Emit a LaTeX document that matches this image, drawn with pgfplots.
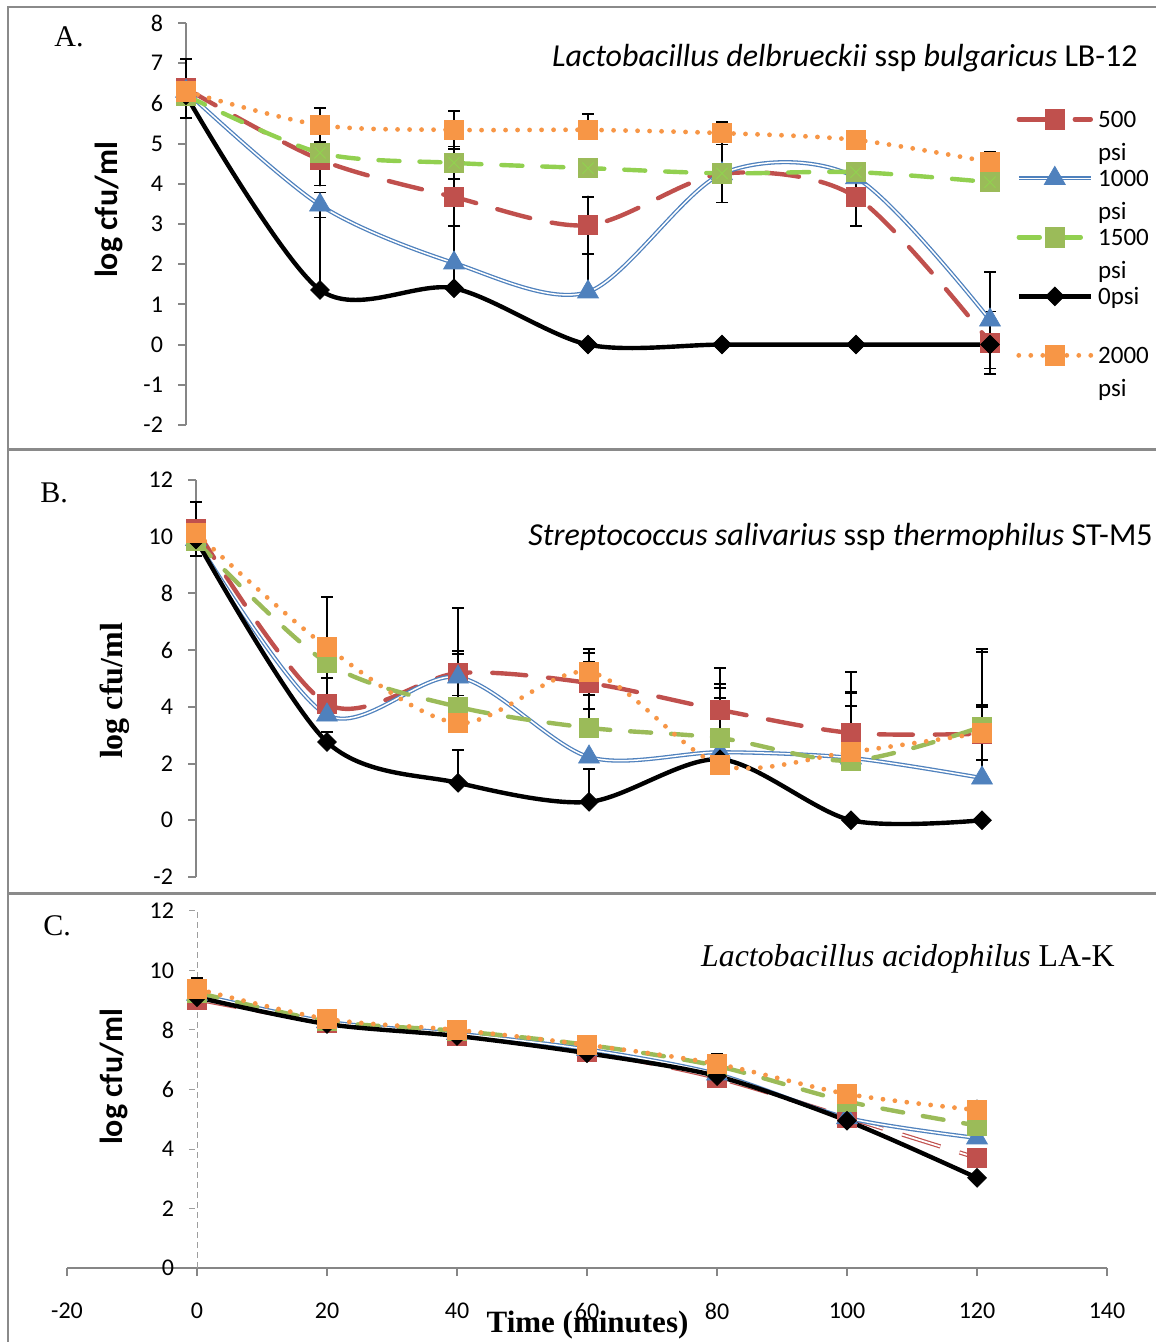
\documentclass[border=0pt]{standalone}
\usepackage{pgfplots}
\pgfplotsset{compat=1.18}
\usepackage{fontspec}
\setmainfont{Liberation Serif}
\newfontfamily\calib{Carlito}
\definecolor{cRed}{HTML}{C0504D}
\definecolor{cBlue}{HTML}{4F81BD}
\definecolor{cGreen}{HTML}{9BBB59}
\definecolor{cGreenL}{HTML}{92D050}
\definecolor{cOrange}{HTML}{F79646}
\definecolor{cAxis}{HTML}{868686}
\definecolor{cFrame}{HTML}{8A8A8A}

\pgfplotsset{
  panel/.style={
    scale only axis, clip=false, anchor=south west,
    axis line style={cAxis, line width=1pt},
    tick style={cAxis, line width=1pt},
    tick align=outside, major tick length=4pt,
    tick label style={font=\calib\fontsize{12}{14}\selectfont},
    yticklabel style={xshift=-4pt},
  },
  eb/.style={error bars/.cd, y dir=both, y explicit,
    error bar style={black, solid, line width=0.7pt},
    error mark options={black, solid, line width=0.7pt, mark size=3pt, rotate=90}},
  sRed/.style={cRed, line width=2.2pt, line cap=round, dash pattern=on 17pt off 11pt, smooth,
    mark=square*, mark size=4.8pt, mark options={solid, fill=cRed, draw=cRed, line width=0.4pt}},
  sBlueLine/.style={cBlue, line width=0.65pt, double=white, double distance=0.75pt, smooth, forget plot},
  sBlueMark/.style={only marks, mark=triangle*, mark size=6pt, mark options={solid, fill=cBlue, draw=cBlue, line width=0.4pt}, forget plot},
  sGreen/.style={#1, line width=2.2pt, line cap=round, dash pattern=on 10.5pt off 10pt, smooth,
    mark=square*, mark size=4.8pt, mark options={solid, fill=cGreen, draw=cGreen, line width=0.4pt}},
  sBlack/.style={black, line width=2.2pt, smooth, mark=square*, mark size=3.3pt,
    mark options={solid, rotate=45, fill=black, draw=black, line width=0.4pt}},
  sOrange/.style={cOrange, line width=2.4pt, line cap=round, dash pattern=on 0pt off 6pt, smooth,
    mark=square*, mark size=4.8pt, mark options={solid, fill=cOrange, draw=cOrange, line width=0.4pt}},
}

\begin{document}
\begin{tikzpicture}
\useasboundingbox (0pt,0pt) rectangle (577.5pt,671pt);
% panel frames
\draw[cFrame, line width=1pt] (4pt,667.5pt) rectangle (582pt,446.5pt);
\draw[cFrame, line width=1pt] (4pt,446pt) rectangle (582pt,224pt);
\draw[cFrame, line width=1pt] (4pt,224.5pt) rectangle (582pt,-5pt);

% ---------------- Panel A ----------------
\begin{axis}[panel, at={(93pt,458.5pt)}, width=435.5pt, height=201pt,
  xmin=0, xmax=130, ymin=-2, ymax=8,
  axis x line=none, axis y line*=left,
  ytick={-2,-1,...,8}, yticklabels={-2,-1,0,1,2,3,4,5,6,7,8},
  ylabel={log cfu/ml},
  ylabel style={at={(axis description cs:-0.0781,0.5348)}, anchor=base, font=\calib\bfseries\fontsize{16}{18}\selectfont},
  legend image code/.code={\begin{scope}[yshift=4pt]\draw[mark repeat=2,mark phase=2,#1] plot coordinates {(0pt,0pt) (18pt,0pt) (36pt,0pt)};\end{scope}\path (38.5pt,0pt);},
  legend style={at={(axis description cs:0.9529,0.796)}, anchor=north west, draw=none, fill=none,
    inner xsep=0pt, inner ysep=0pt, row sep=0.5pt, cells={anchor=base west},
    nodes={inner sep=0pt, text height=11pt, text depth=18pt},
    font=\calib\fontsize{12.5}{16.5}\selectfont},
]
\addplot[sRed, eb] coordinates {
 (0,6.37) +- (0,0.73) (20,4.6) +- (0,0.65) (40,3.67) +- (0,0.72) (60,2.97) +- (0,0.72)
 (80,4.25) +- (0,0) (100,3.67) +- (0,0.72) (120,0.05) +- (0,0.78)};
\addplot[sBlueLine] coordinates {(0,6.3) (20,3.47) (40,2.03) (60,1.31) (80,4.25) (100,4.15) (120,0.61)};
\addplot[sBlueMark, eb] coordinates {
 (0,6.3) +- (0,0) (20,3.47) +- (0,0.31) (40,2.03) +- (0,0) (60,1.31) += (0,2.35) -= (0,0)
 (80,4.25) +- (0,0) (100,4.15) +- (0,0) (120,0.61) +- (0,1.2)};
\addlegendimage{legend image code/.code={
  \begin{scope}[yshift=4pt]
  \draw[cBlue, line width=0.65pt, double=white, double distance=0.75pt] (0pt,0pt) -- (36pt,0pt);
  \draw[cBlue, mark=triangle*, mark size=6pt, mark options={fill=cBlue, draw=cBlue}] plot coordinates {(18pt,0pt)};
  \end{scope}
  \path (38.5pt,0pt);}}
\addplot[sGreen=cGreenL, eb] coordinates {
 (0,6.2) +- (0,0) (20,4.77) +- (0,0) (40,4.52) +- (0,0.4) (60,4.39) +- (0,0)
 (80,4.26) +- (0,0.72) (100,4.29) += (0,0.23) -= (0,0) (120,4.04) +- (0,0)};
\addplot[forget plot, only marks, mark=x, mark size=4pt, cGreenL, line width=0.5pt] coordinates {
 (0,6.2) (20,4.77) (40,4.52) (60,4.39) (80,4.26) (100,4.29) (120,4.04)};
\addplot[sBlack, eb] coordinates {
 (0,6.2) +- (0,0) (20,1.36) += (0,2.42) -= (0,0) (40,1.4) += (0,1.55) -= (0,0)
 (60,0) +- (0,0) (80,0) +- (0,0) (100,0) +- (0,0) (120,0) +- (0,0)};
\addplot[sOrange, eb] coordinates {
 (0,6.3) +- (0,0) (20,5.46) +- (0,0.42) (40,5.34) +- (0,0.47) (60,5.34) += (0,0.4) -= (0,0)
 (80,5.26) +- (0,0.28) (100,5.09) +- (0,0) (120,4.54) += (0,0.26) -= (0,0)};
\legend{\vtop{\hbox{500}\hbox{psi}}, \vtop{\hbox{1000}\hbox{psi}}, \vtop{\hbox{1500}\hbox{psi}}, 0psi, \vtop{\hbox{2000}\hbox{psi}}}
\end{axis}

% ---------------- Panel B ----------------
\begin{axis}[panel, at={(98pt,232.5pt)}, width=425.75pt, height=198.5pt,
  xmin=0, xmax=130, ymin=-2, ymax=12,
  axis x line=none, axis y line*=left,
  ytick={-2,0,...,12}, yticklabels={-2,0,2,4,6,8,10,12},
  ylabel={log cfu/ml},
  ylabel style={at={(axis description cs:-0.0869,0.4685)}, anchor=base, font=\bfseries\fontsize{16}{18}\selectfont},
]
\addplot[sRed, eb] coordinates {
 (0,10.27) +- (0,0.95) (20,4.1) +- (0,0) (40,5.19) +- (0,0.78) (60,4.84) += (0,1.06) -= (0,0.91)
 (80,3.89) += (0,1.48) -= (0,0) (100,3.08) += (0,2.15) -= (0,0) (120,3.05) += (0,1.02) -= (0,0.92)};
\addplot[sBlueLine] coordinates {(0,9.9) (20,3.71) (40,5.05) (60,2.23) (80,2.4) (100,2.2) (120,1.49)};
\addplot[sBlueMark, eb] coordinates {
 (0,9.9) +- (0,0) (20,3.71) +- (0,0) (40,5.05) += (0,0.81) -= (0,0) (60,2.23) +- (0,0)
 (80,2.4) += (0,2.27) -= (0,0) (100,2.2) += (0,1.83) -= (0,0) (120,1.49) += (0,2.51) -= (0,0)};
\addplot[sGreen=cGreen, eb] coordinates {
 (0,9.85) +- (0,0) (20,5.55) += (0,0) -= (0,0.53) (40,4.0) +- (0,0) (60,3.26) += (0,2.32) -= (0,0)
 (80,2.9) += (0,1.9) -= (0,0) (100,2.1) += (0,2.39) -= (0,0) (120,3.3) += (0,2.63) -= (0,0)};
\addplot[sBlack, eb] coordinates {
 (0,9.9) +- (0,0) (20,2.76) += (0,0.35) -= (0,0) (40,1.32) += (0,1.16) -= (0,0) (60,0.65) += (0,1.16) -= (0,0)
 (80,2.15) +- (0,0) (100,0) +- (0,0) (120,0) +- (0,0)};
\addplot[sOrange, eb] coordinates {
 (0,10.13) +- (0,0) (20,6.1) +- (0,1.77) (40,3.43) += (0,4.06) -= (0,0) (60,5.23) +- (0,0.81)
 (80,1.95) += (0,2.36) -= (0,0) (100,2.41) += (0,2.11) -= (0,0) (120,3.08) += (0,2.96) -= (0,0)};
\end{axis}

% ---------------- Panel C ----------------
\begin{axis}[panel, at={(33.5pt,37pt)}, width=520pt, height=178.5pt,
  xmin=-20, xmax=140, ymin=0, ymax=12,
  axis x line*=bottom, axis y line*=middle,
  hide obscured x ticks=false, hide obscured y ticks=false,
  y axis line style={densely dashed, line width=0.5pt, cAxis!80},
  ytick style={densely dashed, line width=0.5pt, cAxis!80},
  xtick={-20,0,...,140}, xticklabels={-20,0,20,40,60,80,100,120,140},
  ytick={0,2,...,12}, yticklabels={0,2,4,6,8,10,12},
  xticklabel style={yshift=-10pt},
  xlabel={Time (minutes)},
  xlabel style={at={(axis description cs:0.5005,-0.1793)}, anchor=base, font=\bfseries\fontsize{15.5}{18}\selectfont},
  ylabel={log cfu/ml},
  ylabel style={at={(axis description cs:0.0538,0.535)}, anchor=base, font=\calib\bfseries\fontsize{16}{18}\selectfont},
]
\addplot[cRed, line width=0.6pt, double=white, double distance=0.9pt, dash pattern=on 20pt off 10pt, smooth, forget plot]
 coordinates {(0,9.03) (20,8.25) (40,7.82) (60,7.27) (80,6.39) (100,5.06) (120,3.7)};
\addplot[forget plot, only marks, mark=square*, mark size=4.8pt, mark options={solid, fill=cRed, draw=cRed}]
 coordinates {(0,9.03) (20,8.25) (40,7.82) (60,7.27) (80,6.39) (100,5.06) (120,3.7)};
\addplot[sBlueLine] coordinates {(0,9.2) (20,8.28) (40,7.88) (60,7.35) (80,6.52) (100,5.05) (120,4.37)};
\addplot[sBlueMark] coordinates {(0,9.2) (20,8.28) (40,7.88) (60,7.35) (80,6.52) (100,5.05) (120,4.37)};
\addplot[sGreen=cGreen, forget plot] coordinates {(0,9.26) (20,8.3) (40,7.97) (60,7.5) (80,6.79) (100,5.6) (120,4.79)};
\addplot[sBlack, forget plot] coordinates {(0,9.1) (20,8.2) (40,7.8) (60,7.22) (80,6.45) (100,4.95) (120,3.03)};
\addplot[sOrange, forget plot, eb] coordinates {
 (0,9.38) += (0,0.37) -= (0,0) (20,8.37) +- (0,0) (40,8.0) +- (0,0) (60,7.5) +- (0,0)
 (80,6.86) += (0,0.34) -= (0,0) (100,5.85) +- (0,0) (120,5.31) += (0,0.33) -= (0,0)};
\end{axis}

% panel letters and titles
\node[inner sep=0pt, anchor=base west, font=\fontsize{15}{18}\selectfont] at (27pt,647.5pt) {A.};
\node[inner sep=0pt, anchor=base west, font=\fontsize{15}{18}\selectfont] at (20pt,419.5pt) {B.};
\node[inner sep=0pt, anchor=base west, font=\fontsize{15}{18}\selectfont] at (21.5pt,203pt) {C.};
\node[inner sep=0pt, anchor=base east, font=\calib\fontsize{16}{18}\selectfont] at (569pt,637.5pt)
 {\textit{Lactobacillus delbrueckii} ssp \textit{bulgaricus} LB-12};
\node[inner sep=0pt, anchor=base east, font=\calib\fontsize{16}{18}\selectfont] at (576.5pt,398pt)
 {\textit{Streptococcus salivarius} ssp \textit{thermophilus} ST-M5};
\node[inner sep=0pt, anchor=base east, font=\fontsize{15.9}{18}\selectfont] at (557.5pt,187.5pt)
 {\textit{Lactobacillus acidophilus} LA-K};
\end{tikzpicture}
\end{document}
